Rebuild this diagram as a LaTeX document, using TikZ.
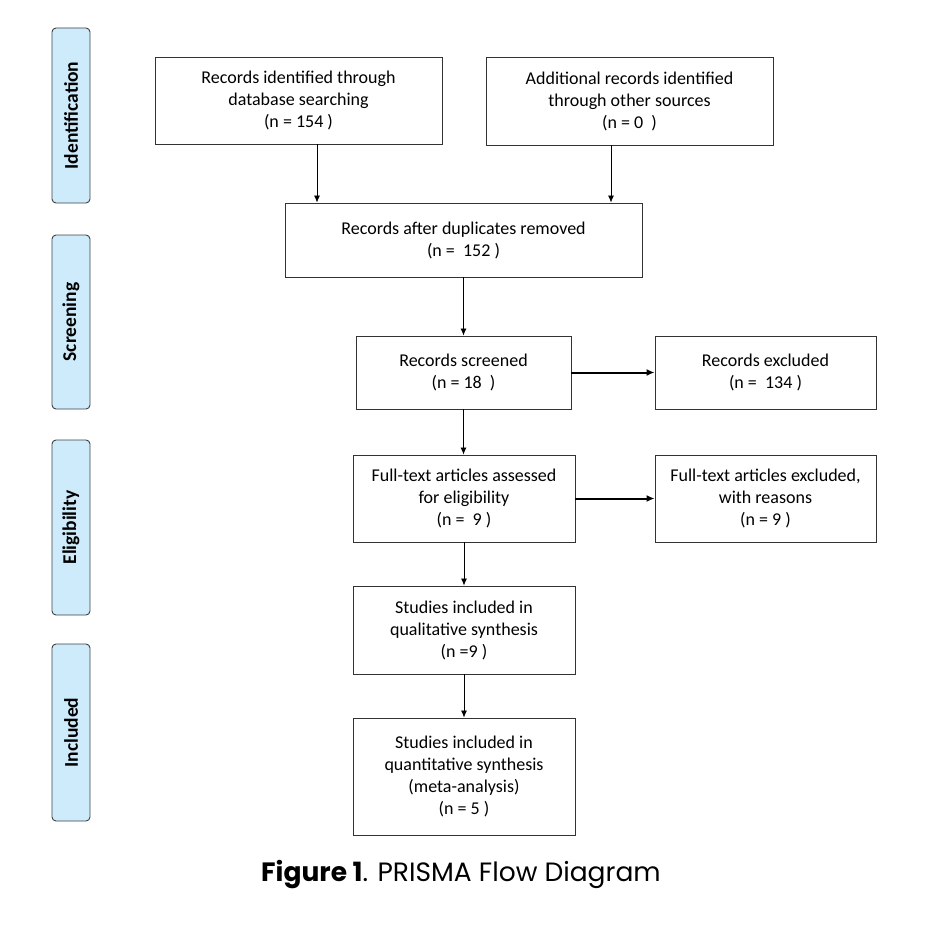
\documentclass[tikz,border=0pt]{standalone}
\usepackage{fontspec}
\setmainfont{Carlito}
\newfontfamily\capfont{Poppins}
\usetikzlibrary{arrows.meta}
\definecolor{sidefill}{HTML}{CDEBFB}
\begin{document}
\begin{tikzpicture}[x=1pt,y=-1pt,
  box/.style={draw=black!80,line width=0.9pt,align=center,inner sep=0pt,
    font=\fontsize{18}{22}\selectfont},
  side/.style={draw=black!75,fill=sidefill,rounded corners=4pt,line width=0.9pt,
    minimum width=38pt,minimum height=175pt,inner sep=0pt},
  sidetext/.style={rotate=90,font=\fontsize{19.5}{22}\bfseries\selectfont},
  thin/.style={-{Latex[length=7pt,width=6pt]},line width=0.8pt},
  thick/.style={-{Latex[length=8pt,width=7pt]},line width=2pt}]
\useasboundingbox (0,0) rectangle (932,934);
% side labels
\node[side,minimum height=175pt] (s1) at (71,115.5) {};
\node[sidetext] at (s1) {Identification};
\node[side,minimum height=174pt] (s2) at (71,322) {};
\node[sidetext] at (s2) {Screening};
\node[side,minimum height=175pt] (s3) at (71,527.5) {};
\node[sidetext] at (s3) {Eligibility};
\node[side,minimum height=177pt] (s4) at (71,732.5) {};
\node[sidetext] at (s4) {Included};
% boxes
\node[box,minimum width=287pt,minimum height=87pt] (b1) at (298.5,100.5)
  {Records identified through\\database searching\\(n = 154 )};
\node[box,minimum width=287pt,minimum height=88pt] (b2) at (629.5,101)
  {Additional records identified\\through other sources\\(n = 0\ \ )};
\node[box,minimum width=357pt,minimum height=74pt] (b3) at (463.5,240)
  {Records after duplicates removed\\(n =\ \ 152 )};
\node[box,minimum width=215pt,minimum height=73pt] (b4) at (463.5,372.5)
  {Records screened\\(n = 18\ \ )};
\node[box,minimum width=221pt,minimum height=73pt] (e1) at (765.5,372.5)
  {Records excluded\\(n =\ \ 134 )};
\node[box,minimum width=222pt,minimum height=87pt] (b5) at (464,498.5)
  {Full-text articles assessed\\for eligibility\\(n =\ \ 9 )};
\node[box,minimum width=221pt,minimum height=87pt] (e2) at (765.5,498.5)
  {Full-text articles excluded,\\with reasons\\(n = 9 )};
\node[box,minimum width=222pt,minimum height=88pt] (b6) at (464,630)
  {Studies included in\\qualitative synthesis\\(n =9 )};
\node[box,minimum width=222pt,minimum height=117pt] (b7) at (464,776.5)
  {Studies included in\\quantitative synthesis\\(meta-analysis)\\(n = 5 )};
% arrows
\coordinate (c1) at (317,0);
\coordinate (c2) at (611,0);
\draw[thin] (b1.south -| c1) -- (b3.north -| c1);
\draw[thin] (b2.south -| c2) -- (b3.north -| c2);
\draw[thin] (b3.south -| b4) -- (b4.north);
\draw[thick] (b4.east) -- (e1.west);
\draw[thin] (b4.south) -- (b5.north -| b4);
\draw[thick] (b5.east) -- (e2.west);
\draw[thin] (b5.south) -- (b6.north);
\draw[thin] (b6.south) -- (b7.north);
% caption
\node[font=\capfont\fontsize{26.5}{30}\selectfont] (cap) at (461,875)
  {\textbf{Figure 1}. PRISMA Flow Diagram};
\end{tikzpicture}
\end{document}
